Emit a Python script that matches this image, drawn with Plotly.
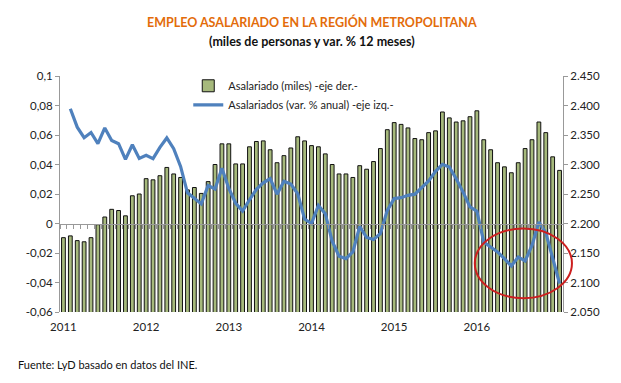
import plotly.graph_objects as go

# ---------------- data ----------------
years = ["2011", "2012", "2013", "2014", "2015", "2016"]
year_start_index = [0, 12, 24, 36, 48, 60]

# Asalariado (miles) - right axis, 73 monthly observations
asalariado_miles = [
    2176, 2179, 2171, 2169, 2176, 2198, 2211, 2224, 2222, 2213, 2247, 2250,
    2276, 2274, 2281, 2295, 2284, 2278, 2257, 2261, 2251, 2271, 2300, 2335,
    2335, 2301, 2301, 2330, 2339, 2340, 2325, 2303, 2315, 2328, 2347, 2340,
    2332, 2330, 2318, 2300, 2284, 2284, 2278, 2298, 2292, 2305, 2327, 2359,
    2371, 2368, 2362, 2344, 2342, 2354, 2357, 2389, 2379, 2372, 2374, 2381,
    2391, 2342, 2325, 2303, 2296, 2286, 2303, 2327, 2342, 2372, 2354, 2313,
    2290,
]

# Asalariados (var. % anual) - left axis (first observation missing)
var_anual = [
    None,
    0.0778, 0.0653, 0.0582, 0.0617, 0.0541, 0.0648, 0.0563, 0.0541, 0.0435, 0.0534, 0.0441,
    0.0462, 0.0440, 0.0516, 0.0580, 0.0507, 0.0387, 0.0208, 0.0171, 0.0133, 0.0257, 0.0234,
    0.0375, 0.0238, 0.0137, 0.0084, 0.0161, 0.0232, 0.0276, 0.0304, 0.0199, 0.0286, 0.0268,
    0.0202, 0.0030, -0.0001, 0.0123, 0.0067, -0.0120, -0.0222, -0.0238, -0.0193, -0.0020,
    -0.0095, -0.0109, -0.0068, 0.0089, 0.0169, 0.0175, 0.0191, 0.0199, 0.0245, 0.0289,
    0.0354, 0.0401, 0.0383, 0.0304, 0.0213, 0.0112, 0.0083, -0.0125, -0.0159, -0.0193,
    -0.0238, -0.0288, -0.0227, -0.0254, -0.0148, 0.0010, -0.0062, -0.0238, -0.0407,
]

left_tick_vals = [0.1, 0.08, 0.06, 0.04, 0.02, 0, -0.02, -0.04, -0.06]
left_tick_text = ["0,1", "0,08", "0,06", "0,04", "0,02", "0", "-0,02", "-0,04", "-0,06"]
right_tick_vals = [2450, 2400, 2350, 2300, 2250, 2200, 2150, 2100, 2050]
right_tick_text = ["2.450", "2.400", "2.350", "2.300", "2.250", "2.200", "2.150", "2.100", "2.050"]

# highlighted region (category index range, left-axis value range)
highlight_x = [59.7, 73.8]
highlight_y = [-0.0506, -0.0034]

# ---------------- figure ----------------
W, H = 621, 383
ML, MR, MT, MB = 60, 58, 75.5, 71.3
FONT = "Lato, 'Open Sans', sans-serif"

n = len(asalariado_miles)
idx = list(range(n))
xr = [-0.5, n - 0.5]
yl = [-0.06, 0.1]
yr = [2050, 2450]

fig = go.Figure()
fig.add_trace(go.Bar(
    x=idx, y=asalariado_miles, name="Asalariado (miles) -eje der.-",
    marker=dict(color="#A6B97C", line=dict(color="#111111", width=1)),
    width=0.55, xaxis="x", yaxis="y",
))
fig.add_trace(go.Scatter(
    x=idx, y=var_anual, name="Asalariados (var. % anual) -eje izq.-",
    mode="lines", line=dict(color="#4F81BD", width=3.2),
    xaxis="x", yaxis="y2",
))
# helper invisible trace to draw the category axis crossing at zero
fig.add_trace(go.Scatter(
    x=[xr[0], xr[1]], y=[0, 0], mode="lines", line=dict(width=0),
    showlegend=False, hoverinfo="skip", xaxis="x2", yaxis="y2",
))

zero_frac = (0 - yl[0]) / (yl[1] - yl[0])

fig.update_layout(
    width=W, height=H,
    margin=dict(l=ML, r=MR, t=MT, b=MB, pad=0, autoexpand=False),
    paper_bgcolor="white", plot_bgcolor="white",
    font=dict(family=FONT, size=11, color="#222222"),
    bargap=0.45,
    showlegend=True,
    legend=dict(
        x=0.255, y=1.02, xanchor="left", yanchor="top",
        bgcolor="rgba(0,0,0,0)", font=dict(size=11, color="#222222"),
        traceorder="normal", tracegroupgap=0, itemwidth=30,
    ),
    xaxis=dict(
        range=xr, tickvals=year_start_index, ticktext=years,
        showgrid=False, zeroline=False, showline=False, ticks="",
        tickfont=dict(size=11.5), ticklabelstandoff=6,
    ),
    xaxis2=dict(
        range=xr, overlaying="x", anchor="free", position=zero_frac,
        showline=True, linecolor="#999999", linewidth=1,
        ticks="outside", ticklen=4, tickcolor="#999999", tickwidth=1,
        tickvals=[i + 0.5 for i in range(-1, n)], showticklabels=False,
        showgrid=False, zeroline=False,
    ),
    yaxis=dict(
        range=yr, side="right", tickvals=right_tick_vals, ticktext=right_tick_text,
        showgrid=False, zeroline=False, showline=True, linecolor="#999999", linewidth=1,
        ticks="outside", ticklen=4, tickcolor="#999999", tickfont=dict(size=11.5),
    ),
    yaxis2=dict(
        range=yl, side="left", overlaying="y", tickvals=left_tick_vals, ticktext=left_tick_text,
        showgrid=False, zeroline=False, showline=True, linecolor="#999999", linewidth=1,
        ticks="outside", ticklen=4, tickcolor="#999999", tickfont=dict(size=11.5),
    ),
)

# ellipse in paper coords derived from category index / left axis values
def xpaper(v):
    return (v - xr[0]) / (xr[1] - xr[0])

def ypaper(v):
    return (v - yl[0]) / (yl[1] - yl[0])

fig.add_shape(
    type="circle", xref="paper", yref="paper",
    x0=xpaper(highlight_x[0]), x1=xpaper(highlight_x[1]),
    y0=ypaper(highlight_y[0]), y1=ypaper(highlight_y[1]),
    line=dict(color="#CC1F1F", width=2), fillcolor="rgba(0,0,0,0)",
)

ph = H - MT - MB
pw = W - ML - MR

def py(pix):
    return (H - MB - pix) / ph

def px(pix):
    return (pix - ML) / pw

fig.add_annotation(
    text="<b>EMPLEO ASALARIADO EN LA REGIÓN METROPOLITANA</b>",
    xref="paper", yref="paper", x=px(312), y=py(21), xanchor="center", yanchor="middle",
    showarrow=False, font=dict(size=12.5, color="#E36C0A", family=FONT),
)
fig.add_annotation(
    text="<b>(miles de personas y var. % 12 meses)</b>",
    xref="paper", yref="paper", x=px(312), y=py(41), xanchor="center", yanchor="middle",
    showarrow=False, font=dict(size=12.5, color="#111111", family=FONT),
)
fig.add_annotation(
    text="Fuente: LyD basado en datos del INE.",
    xref="paper", yref="paper", x=px(16), y=py(364), xanchor="left", yanchor="middle",
    showarrow=False, font=dict(size=11, color="#111111", family=FONT),
)

fig.write_html(
    "out.html",
    config={"displayModeBar": False},
    post_script="document.body.style.margin='0';document.body.style.overflow='hidden';",
)
